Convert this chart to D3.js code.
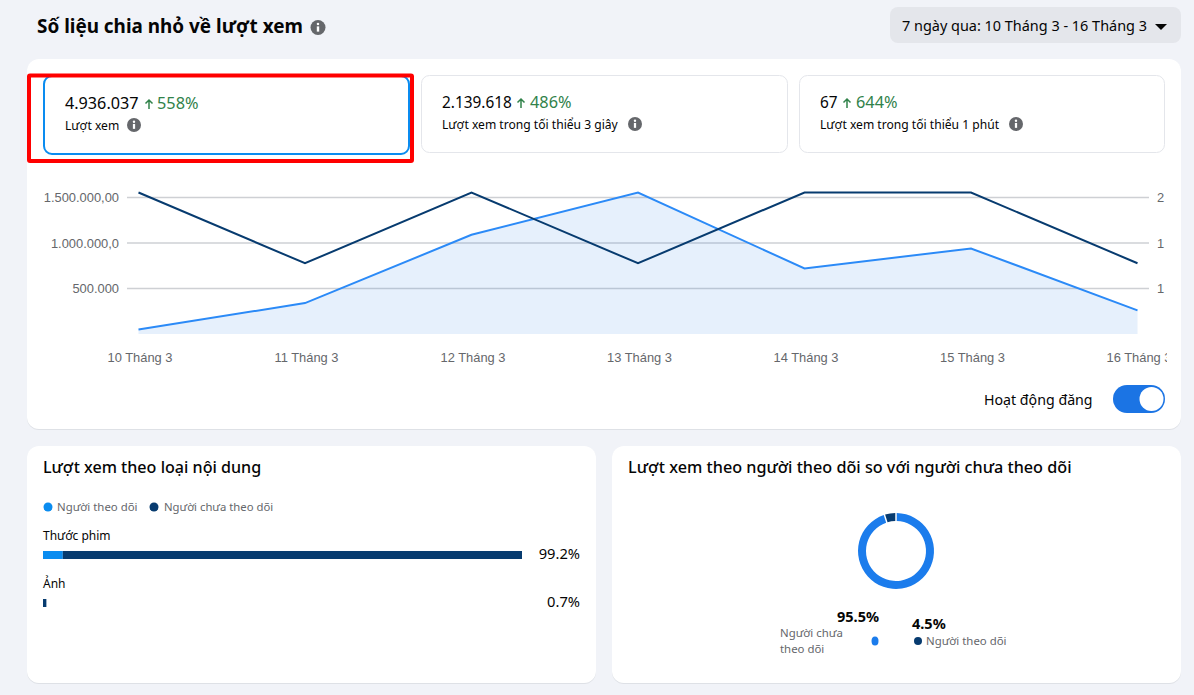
<!DOCTYPE html>
<html><head><meta charset="utf-8">
<script src="https://cdn.jsdelivr.net/npm/d3@7/dist/d3.min.js"></script>
<style>html,body{margin:0;padding:0;background:#f1f3f8;overflow:hidden}svg{display:block}
text{font-family:"Noto Sans","Open Sans",sans-serif;fill:#050505}
.tick text{font-family:"Liberation Sans",Arial,sans-serif;font-size:12.9px;fill:#65676b}
.axis path,.axis line{display:none}</style></head>
<body><svg id="c" width="1194" height="695"></svg>
<script>
const days=["10 Tháng 3","11 Tháng 3","12 Tháng 3","13 Tháng 3","14 Tháng 3","15 Tháng 3","16 Tháng 3"];
const viewsSeries=[50000,340000,1090000,1555000,720000,940000,260000];
const postsSeries=[2,1,2,1,2,2,1];
const leftTicks=[500000,1000000,1500000];
const leftTickLabels=["500.000","1.000.000,0","1.500.000,00"];
const rightTicks=[0.643,1.286,1.929];
const rightTickLabels=["1","1","2"];
const metricValues=["4.936.037","2.139.618","67"];
const metricChanges=["558%","486%","644%"];
const metricLabels=["Lượt xem","Lượt xem trong tối thiểu 3 giây","Lượt xem trong tối thiểu 1 phút"];
const contentTypes=["Thước phim","Ảnh"];
const followerShare=[4.1,0];
const nonFollowerShare=[95.1,0.7];
const contentTotals=["99.2%","0.7%"];
const donutLabels=["Người chưa theo dõi","Người theo dõi"];
const donutValues=[95.5,4.5];

const svg=d3.select("#c");
const BLUE="#1b7cec",LINE="#2b8af7",NAVY="#073b6f",BAR="#0a8cf0";
function T(x,y,s,size,o={}){const t=svg.append("text").attr("x",x).attr("y",y).attr("font-size",size).text(s);
 if(o.w)t.attr("font-weight",o.w);if(o.c)t.style("fill",o.c);if(o.a)t.attr("text-anchor",o.a);return t;}
function info(x,y,r=7.5){svg.append("circle").attr("cx",x).attr("cy",y).attr("r",r).attr("fill","#65676b");
 svg.append("circle").attr("cx",x).attr("cy",y-r*.47).attr("r",r*.17).attr("fill","#fff");
 svg.append("rect").attr("x",x-r*.16).attr("y",y-r*.15).attr("width",r*.32).attr("height",r*.7).attr("fill","#fff");}
function card(x,y,w,h,r=12){svg.append("rect").attr("x",x).attr("y",y+1).attr("width",w).attr("height",h).attr("rx",r).attr("fill","#d5d8de").attr("opacity",.7);
 svg.append("rect").attr("x",x).attr("y",y).attr("width",w).attr("height",h).attr("rx",r).attr("fill","#fff");}
function arrow(x,y){svg.append("path").attr("d",`M${x} ${y+10}V${y+1}M${x-3.5} ${y+4.5}L${x} ${y+1}L${x+3.5} ${y+4.5}`).attr("fill","none").attr("stroke","#31824a").attr("stroke-width",1.5);}

// Header
T(37,33,"Số liệu chia nhỏ về lượt xem",18.9,{w:700});
info(318,27.5);
svg.append("rect").attr("x",890).attr("y",7).attr("width",291).attr("height",36).attr("rx",8).attr("fill","#e4e6eb");
T(902,31,"7 ngày qua: 10 Tháng 3 - 16 Tháng 3",14.45);
svg.append("path").attr("d","M1155 24h12l-6 6z").attr("fill","#050505");

card(27,59,1154,370);

// Metric cards
const mX=[44,421,799],mW=[365,366,365];
const tX=[65,442,820],baseV=[109,108,108],baseL=[130,129,129],arrowX=[149,521,847],chX=[157,530,856],infoX=[134,635,1016];
const vSize=[16.2,15.4,15.4];
metricValues.forEach((v,i)=>{
 svg.append("rect").attr("x",i?mX[i]+.5:mX[i]).attr("y",i?75.5:76).attr("width",mW[i]).attr("height",i?77:78).attr("rx",8).attr("fill","#fff")
  .attr("stroke",i?"#e4e6eb":"#0a8cf0").attr("stroke-width",i?1:2);
 T(tX[i],baseV[i],v,vSize[i]);
 arrow(arrowX[i],baseV[i]-10);
 T(chX[i],baseV[i],metricChanges[i],16.3,{c:"#31824a"});
 T(tX[i],baseL[i],metricLabels[i],12.1);
 info(infoX[i],baseL[i]-5,7);
});
svg.append("rect").attr("x",29).attr("y",75.5).attr("width",383).attr("height",85.5).attr("rx",1).attr("fill","none").attr("stroke","#ff0000").attr("stroke-width",4);

// Line chart
const x=d3.scalePoint().domain(days).range([138.5,1137.5]);
const y=d3.scaleLinear().domain([0,1555000]).range([334,192.5]);
const y2=d3.scaleLinear().domain([0,2]).range([334,192.5]);
svg.append("defs").append("clipPath").attr("id","clipx").append("rect").attr("x",27).attr("y",340).attr("width",1140).attr("height",40);
svg.append("g").selectAll("line").data(leftTicks).join("line").attr("x1",127).attr("x2",1149)
 .attr("y1",d=>y(d)).attr("y2",d=>y(d)).attr("stroke","#ced0d4").attr("stroke-width",1.5);
svg.append("g").attr("class","axis").attr("transform","translate(127,0)")
 .call(d3.axisLeft(y).tickValues(leftTicks).tickSize(0).tickPadding(8).tickFormat((d,i)=>leftTickLabels[i]));
svg.append("g").attr("class","axis").attr("transform","translate(1157,0)")
 .call(d3.axisRight(y2).tickValues(rightTicks).tickSize(0).tickPadding(0).tickFormat((d,i)=>rightTickLabels[i]));
const xA=svg.append("g").attr("class","axis").attr("clip-path","url(#clipx)");
xA.append("g").attr("transform","translate(1,353)").call(d3.axisBottom(x).tickSize(0).tickPadding(0));
svg.append("path").datum(viewsSeries).attr("fill","rgba(27,116,228,.11)")
 .attr("d",d3.area().x((d,i)=>x(days[i])).y0(y(0)).y1(d=>y(d)));
svg.append("path").datum(viewsSeries).attr("fill","none").attr("stroke",LINE).attr("stroke-width",2)
 .attr("d",d3.line().x((d,i)=>x(days[i])).y(d=>y(d)));
svg.append("path").datum(postsSeries).attr("fill","none").attr("stroke",NAVY).attr("stroke-width",2)
 .attr("d",d3.line().x((d,i)=>x(days[i])).y(d=>y2(d)));

// Toggle
T(984,405,"Hoạt động đăng",14.2);
svg.append("rect").attr("x",1113).attr("y",385).attr("width",52).attr("height",28).attr("rx",14).attr("fill","#1b74e4");
svg.append("circle").attr("cx",1151.5).attr("cy",399).attr("r",12).attr("fill","#fff");

// Bottom cards
card(27,446,569,237);card(612,446,569,237);
T(43,473,"Lượt xem theo loại nội dung",16.1,{w:500});
T(628,473,"Lượt xem theo người theo dõi so với người chưa theo dõi",16.2,{w:500});

// Stacked bars
svg.append("circle").attr("cx",48).attr("cy",507).attr("r",4.5).attr("fill",BAR);
T(57,511,"Người theo dõi",11.4,{c:"#65676b"});
svg.append("circle").attr("cx",154).attr("cy",507).attr("r",4.5).attr("fill",NAVY);
T(164,511,"Người chưa theo dõi",11.3,{c:"#65676b"});
const bx=d3.scaleLinear().domain([0,99.2]).range([43,522]);
const by=d3.scaleBand().domain(contentTypes).range([551,647]);
contentTypes.forEach((c,i)=>{
 const top=by(c);
 T(43,top-11,c,12);
 svg.append("rect").attr("x",bx(0)).attr("y",top).attr("width",bx(followerShare[i])-bx(0)).attr("height",8).attr("fill",BAR);
 svg.append("rect").attr("x",bx(followerShare[i])).attr("y",top).attr("width",bx(followerShare[i]+nonFollowerShare[i])-bx(followerShare[i])).attr("height",8).attr("fill",NAVY);
 T(580,top+8,contentTotals[i],14.7,{a:"end"});
});

// Donut
const pie=d3.pie().sort(null).padAngle(0.03)(donutValues);
const arc=d3.arc().innerRadius(30).outerRadius(38);
svg.append("g").attr("transform","translate(896,551)").selectAll("path").data(pie).join("path")
 .attr("d",arc).attr("fill",(d,i)=>i?NAVY:BLUE);
T(837,622,donutValues[0]+"%",14.5,{w:700});
T(912,629,donutValues[1]+"%",14.5,{w:700});
const dl=donutLabels[0].split(" ");
T(780,637,dl.slice(0,2).join(" "),11.4,{c:"#65676b"});
T(780,653,dl.slice(2).join(" "),11.4,{c:"#65676b"});
svg.append("ellipse").attr("cx",875).attr("cy",641).attr("rx",3.5).attr("ry",4.5).attr("fill",BLUE);
svg.append("circle").attr("cx",918).attr("cy",641).attr("r",4).attr("fill",NAVY);
T(926,645,donutLabels[1],11.4,{c:"#65676b"});
</script></body></html>
